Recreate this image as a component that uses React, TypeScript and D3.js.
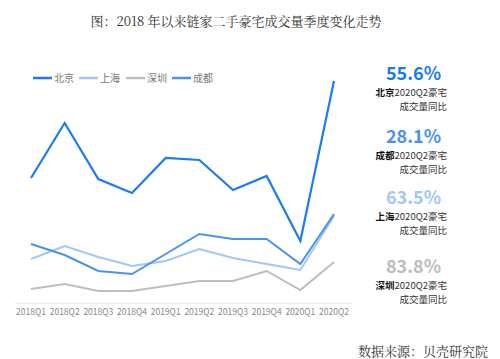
import React from "react";
import * as d3 from "d3";

const quarters = ["2018Q1","2018Q2","2018Q3","2018Q4","2019Q1","2019Q2","2019Q3","2019Q4","2020Q1","2020Q2"];
const beijing = [125, 180, 124, 110, 145, 143, 113, 127, 62, 222];
const shanghai = [44, 57, 46, 37, 42, 54, 45, 39, 33, 87];
const shenzhen = [14, 19, 12, 12, 17, 22, 22, 32, 13, 41];
const chengdu = [59, 48, 32, 29, 49, 69, 64, 64, 39, 89];

const seriesNames = ["北京", "上海", "深圳", "成都"];
const seriesColors = ["#1a7cf0", "#a3c7f4", "#bdbdbd", "#4a92ee"];
const seriesData = [beijing, shanghai, shenzhen, chengdu];

const highlights = [
  { pct: "55.6%", city: "北京", color: "#1a7cf0" },
  { pct: "28.1%", city: "成都", color: "#4a92ee" },
  { pct: "63.5%", city: "上海", color: "#a3c7f4" },
  { pct: "83.8%", city: "深圳", color: "#bdbdbd" },
];

export default function App() {
  const W = 500, H = 359;
  const x = d3.scalePoint<string>().domain(quarters).range([31, 334]);
  const y = d3.scaleLinear().domain([0, 250]).range([303, 53]);
  const line = d3.line<number>().x((_, i) => x(quarters[i])!).y((d) => y(d));
  const sans = "'Microsoft YaHei', 'Noto Sans CJK SC', 'Noto Sans', sans-serif";
  const serif = "'Noto Serif CJK SC', 'DejaVu Serif', serif";
  const drawOrder = [2, 1, 3, 0];
  const legendX = [33, 79, 126, 172];
  const hlY = [73, 136, 197, 266];

  return (
    <svg width={W} height={H} style={{ position: "absolute", left: 0, top: 0, background: "#fff" }}>
      <text x={236} y={26} textAnchor="middle" fontFamily={serif} fontSize={13} fill="#333">
        图：2018 年以来链家二手豪宅成交量季度变化走势
      </text>
      {/* legend */}
      {seriesNames.map((n, i) => (
        <g key={n}>
          <line x1={legendX[i]} x2={legendX[i] + 19} y1={78} y2={78} stroke={seriesColors[i]} strokeWidth={2.5} />
          <text x={legendX[i] + 21} y={81.5} fontFamily={sans} fontSize={10} fill="#777">{n}</text>
        </g>
      ))}
      {/* axis */}
      <line x1={15} x2={352} y1={303} y2={303} stroke="#e6e6e6" strokeWidth={1} />
      {quarters.map((q) => (
        <text key={q} x={x(q)!} y={315} textAnchor="middle" fontFamily={sans} fontSize={8.5} fill="#888">{q}</text>
      ))}
      {drawOrder.map((i) => (
        <path key={i} d={line(seriesData[i]) || ""} fill="none" stroke={seriesColors[i]} strokeWidth={i === 0 ? 2.2 : 2} strokeLinejoin="miter" />
      ))}
      {/* highlights */}
      {highlights.map((h, i) => (
        <g key={h.city}>
          <text x={441} y={hlY[i] + 6.5} textAnchor="end" fontFamily={sans} fontSize={18} fontWeight="bold" fill={h.color}>{h.pct}</text>
          <text x={447} y={hlY[i] + 23} textAnchor="end" fontFamily={sans} fontSize={9.5} fill="#333">
            <tspan fontWeight="bold" fill="#111">{h.city}</tspan>2020Q2豪宅
          </text>
          <text x={447} y={hlY[i] + 37} textAnchor="end" fontFamily={sans} fontSize={9.5} fill="#333">成交量同比</text>
        </g>
      ))}
      <text x={488} y={356} textAnchor="end" fontFamily={serif} fontSize={13} fill="#333">数据来源：贝壳研究院</text>
    </svg>
  );
}
